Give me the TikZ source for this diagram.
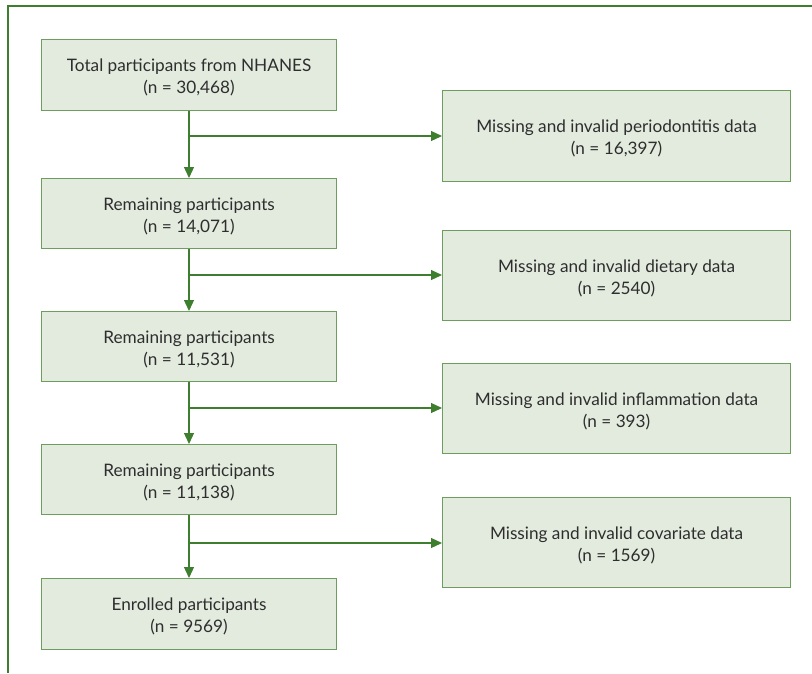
\documentclass[tikz,border=0pt]{standalone}
\usepackage{fontspec}
\setmainfont{Lato}
\usetikzlibrary{arrows.meta}
\definecolor{boxfill}{HTML}{E3EBDE}
\definecolor{boxdraw}{HTML}{6E9E5E}
\definecolor{arr}{HTML}{3D7F2E}
\definecolor{txt}{HTML}{2E2E2E}
\newcommand{\twoline}[2]{\raisebox{-7.8pt}[0pt][0pt]{\begin{tabular}{@{}c@{}}#1\\#2\end{tabular}}}
\begin{document}
\begin{tikzpicture}[x=1pt,y=-1pt,
  fbox/.style={draw=boxdraw,line width=1.2pt,fill=boxfill,text=txt,align=center,
    font=\fontsize{17.2}{22}\selectfont,inner sep=0pt,anchor=north west},
  conn/.style={draw=arr,line width=1.2pt},
  tip/.style={-{Triangle[length=11pt,width=10pt]}}]
\useasboundingbox (0,0) rectangle (812,673);
\draw[arr,line width=1.5pt] (8,673) -- (8,6) -- (812,6);
\node[fbox,minimum width=295pt,minimum height=71pt] (a1) at (41,39) {\twoline{Total participants from NHANES}{(n = 30,468)}};
\node[fbox,minimum width=295pt,minimum height=70pt] (a2) at (41,178) {\twoline{Remaining participants}{(n = 14,071)}};
\node[fbox,minimum width=295pt,minimum height=70pt] (a3) at (41,311) {\twoline{Remaining participants}{(n = 11,531)}};
\node[fbox,minimum width=295pt,minimum height=70pt] (a4) at (41,444) {\twoline{Remaining participants}{(n = 11,138)}};
\node[fbox,minimum width=295pt,minimum height=71pt] (a5) at (41,578) {\twoline{Enrolled participants}{(n = 9569)}};
\node[fbox,minimum width=348pt,minimum height=91pt] (b1) at (442,90) {\twoline{Missing and invalid periodontitis data}{(n = 16,397)}};
\node[fbox,minimum width=348pt,minimum height=90pt] (b2) at (442,230) {\twoline{Missing and invalid dietary data}{(n = 2540)}};
\node[fbox,minimum width=348pt,minimum height=90pt] (b3) at (442,363) {\twoline{Missing and invalid inflammation data}{(n = 393)}};
\node[fbox,minimum width=348pt,minimum height=90pt] (b4) at (442,497) {\twoline{Missing and invalid covariate data}{(n = 1569)}};
\foreach \i/\j/\b/\y in {1/2/b1/136,2/3/b2/275,3/4/b3/408,4/5/b4/543}{
  \coordinate (s\i) at (189,\y);
  \draw[conn,tip] (a\i.south -| s\i) -- (a\j.north -| s\i);
  \draw[conn,tip] (s\i) -- (\b.west |- s\i);
}
\end{tikzpicture}
\end{document}
